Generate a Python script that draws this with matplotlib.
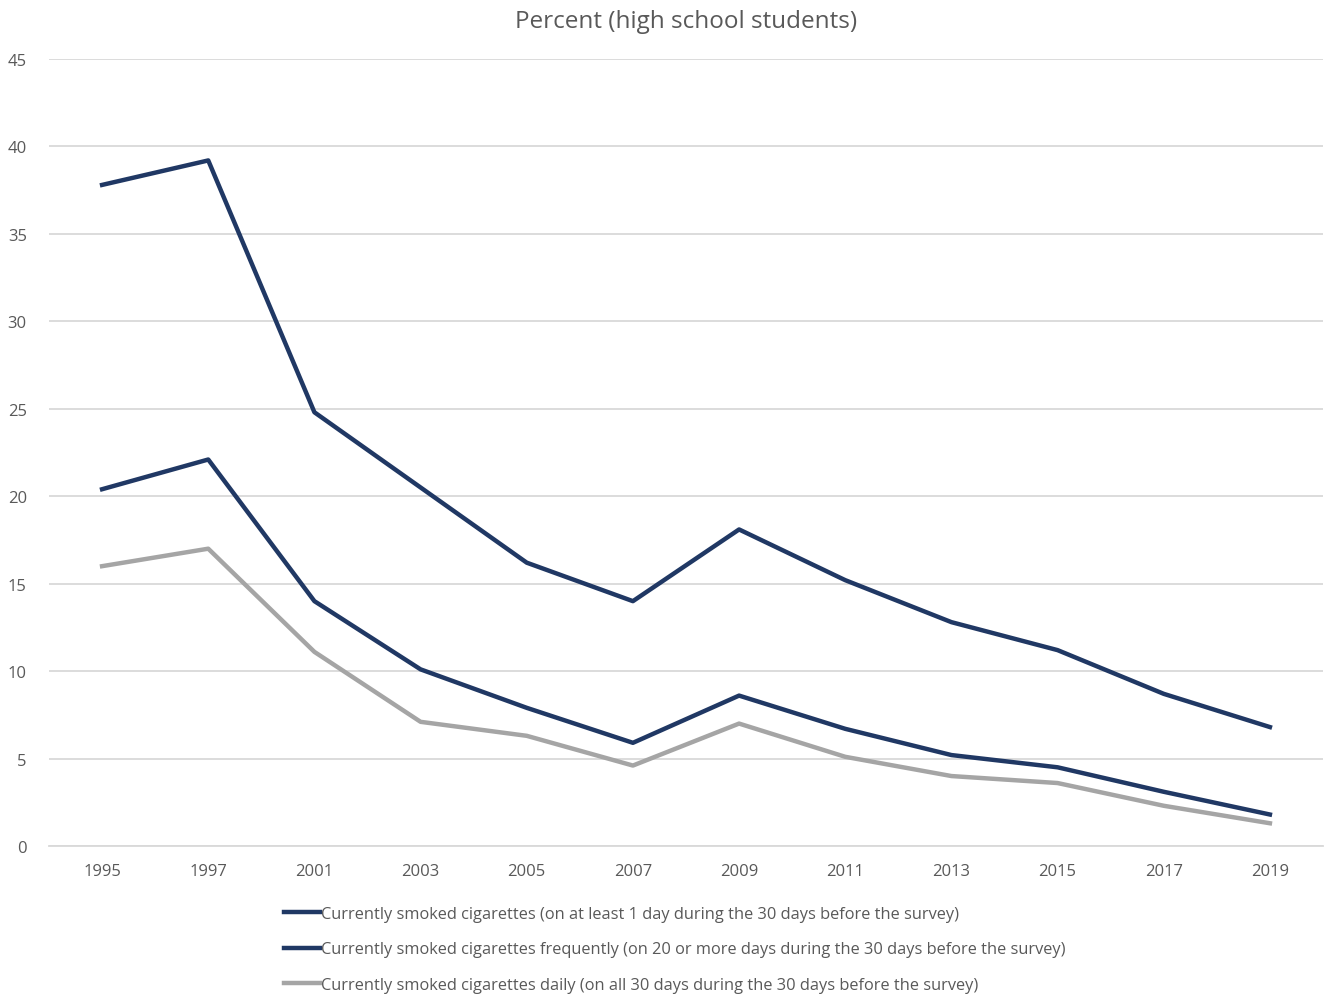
import matplotlib
matplotlib.use('Agg')
import matplotlib.pyplot as plt

plt.rcParams['font.family'] = ['Open Sans', 'DejaVu Sans']

years = ['1995', '1997', '2001', '2003', '2005', '2007', '2009', '2011', '2013', '2015', '2017', '2019']
current = [37.8, 39.2, 24.8, 20.5, 16.2, 14.0, 18.1, 15.2, 12.8, 11.2, 8.7, 6.8]
frequent = [20.4, 22.1, 14.0, 10.1, 7.9, 5.9, 8.6, 6.7, 5.2, 4.5, 3.1, 1.8]
daily = [16.0, 17.0, 11.1, 7.1, 6.3, 4.6, 7.0, 5.1, 4.0, 3.6, 2.3, 1.3]

labels = [
    'Currently smoked cigarettes (on at least 1 day during the 30 days before the survey)',
    'Currently smoked cigarettes frequently (on 20 or more days during the 30 days before the survey)',
    'Currently smoked cigarettes daily (on all 30 days during the 30 days before the survey)',
]
navy = '#203864'
gray = '#A5A5A5'
text_col = '#595959'

fig = plt.figure(figsize=(13.3, 9.95), dpi=100)
ax = fig.add_axes([49 / 1330, 148 / 995, 1274 / 1330, 787 / 995])

x = range(len(years))
ax.plot(x, current, color=navy, lw=3.2, label=labels[0], solid_joinstyle='round')
ax.plot(x, frequent, color=navy, lw=3.2, label=labels[1], solid_joinstyle='round')
ax.plot(x, daily, color=gray, lw=3.2, label=labels[2], solid_joinstyle='round')

ax.set_xlim(-0.5, 11.5)
ax.set_ylim(0, 45)
ax.set_yticks(range(0, 50, 5))
ax.set_xticks(list(x))
ax.set_xticklabels(years)
ax.grid(axis='y', color='#D9D9D9', lw=1.3)
ax.set_axisbelow(True)
for s in ['top', 'right', 'left']:
    ax.spines[s].set_visible(False)
ax.spines['bottom'].set_color('#D9D9D9')
ax.spines['bottom'].set_linewidth(1.3)
ax.tick_params(axis='both', length=0, labelsize=12, colors=text_col, pad=12)
ax.tick_params(axis='y', pad=16)

ax.set_title('Percent (high school students)', fontsize=17.5, color=text_col, pad=23)

fig.legend(loc='upper left', bbox_to_anchor=(276 / 1330, 1 - 899 / 995), frameon=False,
           fontsize=11.8, labelcolor=text_col, handlelength=2.2, handletextpad=0.05,
           labelspacing=1.17, borderpad=0)

fig.savefig('out.png', dpi=100)
